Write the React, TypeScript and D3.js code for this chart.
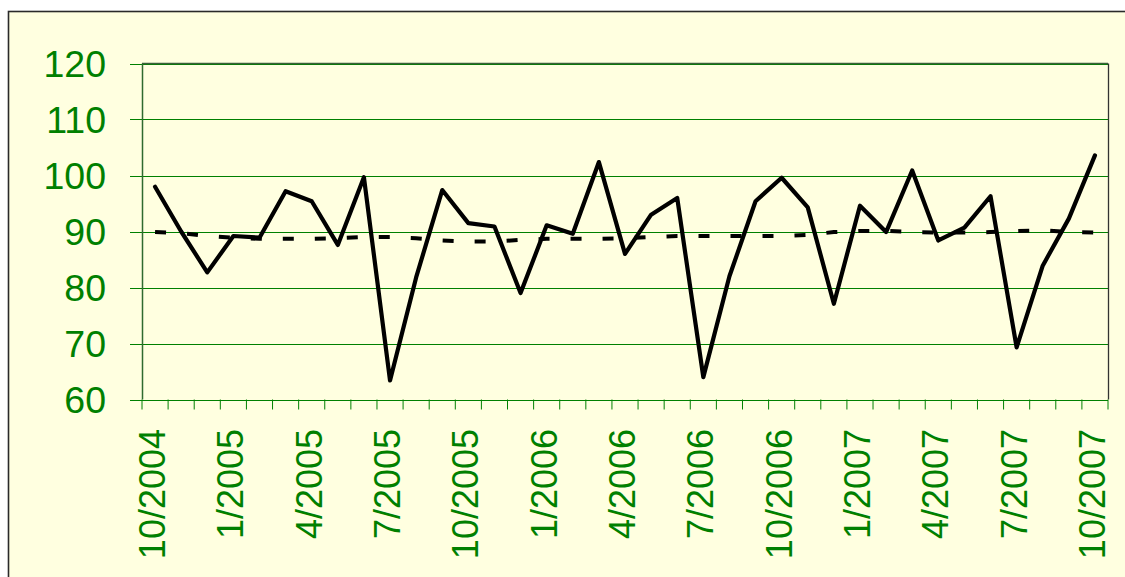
import React from "react";
import * as d3 from "d3";

const startMonth = 10;
const startYear = 2004;
const categories: string[] = Array.from({ length: 37 }, (_, i) => {
  const m = ((startMonth - 1 + i) % 12) + 1;
  const y = startYear + Math.floor((startMonth - 1 + i) / 12);
  return `${m}/${y}`;
});

const actualValues: number[] = [
  98.0, 90.0, 82.7, 89.2, 88.9, 97.2, 95.4, 87.6, 99.7, 63.4,
  81.8, 97.4, 91.5, 90.9, 79.0, 91.1, 89.6, 102.4, 86.0, 93.0,
  96.0, 64.0, 82.0, 95.4, 99.6, 94.3, 77.1, 94.6, 89.9, 100.9,
  88.4, 90.7, 96.3, 69.3, 83.9, 92.3, 103.6,
];

const trendValues: number[] = [
  89.9, 89.7, 89.2, 88.9, 88.7, 88.7, 88.7, 88.8, 89.0, 89.0,
  88.8, 88.4, 88.2, 88.2, 88.5, 88.7, 88.7, 88.7, 88.8, 89.0,
  89.2, 89.2, 89.2, 89.2, 89.2, 89.4, 89.9, 90.1, 90.1, 89.9,
  89.8, 89.8, 89.9, 90.1, 90.2, 89.9, 89.8,
];

const yTicks: number[] = [60, 70, 80, 90, 100, 110, 120];
const labelEvery = 3;

export default function App() {
  const W = 1125;
  const H = 577;
  const left = 142;
  const right = 1108;
  const top = 63.5;
  const bottom = 399.5;

  const x = d3.scaleBand<string>().domain(categories).range([left, right]).paddingInner(0).paddingOuter(0);
  const y = d3.scaleLinear().domain([60, 120]).range([bottom, top]);
  const cx = (c: string) => (x(c) as number) + x.bandwidth() / 2;

  const line = d3
    .line<number>()
    .x((_, i) => cx(categories[i]))
    .y((d) => y(d));

  const green = "#008000";
  const font = "'Liberation Sans', Arial, sans-serif";

  const tickXs = categories.map((c) => x(c) as number).concat([right]);

  return (
    <svg
      width={W}
      height={H}
      style={{ position: "absolute", left: 0, top: 0 }}
      xmlns="http://www.w3.org/2000/svg"
    >
      <rect x={0} y={0} width={W} height={H} fill="#ffffff" />
      <rect x={8.5} y={11.5} width={W + 10} height={H + 10} fill="#FFFFE0" stroke="#2a2a2a" strokeWidth={1.6} />

      {/* gridlines */}
      {yTicks.map((t) => (
        <line key={"g" + t} x1={left - 12} x2={right} y1={Math.round(y(t)) + 0.5} y2={Math.round(y(t)) + 0.5} stroke={green} strokeWidth={1} />
      ))}
      {/* plot border top/right */}
      <line x1={left} x2={right} y1={top} y2={top} stroke="#3a5f3a" strokeWidth={1.5} />
      <line x1={right + 0.5} x2={right + 0.5} y1={top} y2={bottom} stroke="#333333" strokeWidth={1.3} />
      {/* left axis */}
      <line x1={left + 0.5} x2={left + 0.5} y1={top} y2={bottom} stroke="#2f6a2f" strokeWidth={1.5} />
      {/* x axis ticks */}
      {tickXs.map((tx, i) => (
        <line key={"t" + i} x1={tx} x2={tx} y1={bottom} y2={bottom + 10} stroke={green} strokeWidth={1} />
      ))}

      {/* y labels */}
      {yTicks.map((t) => (
        <text key={"y" + t} x={106} y={y(t)} dy="0.35em" textAnchor="end" fill={green} fontFamily={font} fontSize={37.5}>
          {t}
        </text>
      ))}

      {/* x labels */}
      {categories.map((c, i) =>
        i % labelEvery === 0 ? (
          <text
            key={"x" + c}
            transform={`translate(${cx(c) + 10},${429}) rotate(-90)`}
            textAnchor="end"
            fill={green}
            fontFamily={font}
            fontSize={36}
          >
            {c}
          </text>
        ) : null
      )}

      {/* trend dashed */}
      <path d={line(trendValues) || ""} fill="none" stroke="#000" strokeWidth={4} strokeDasharray="11 21" />
      {/* actual */}
      <path d={line(actualValues) || ""} fill="none" stroke="#000" strokeWidth={4.2} strokeLinejoin="round" strokeLinecap="round" />
    </svg>
  );
}
